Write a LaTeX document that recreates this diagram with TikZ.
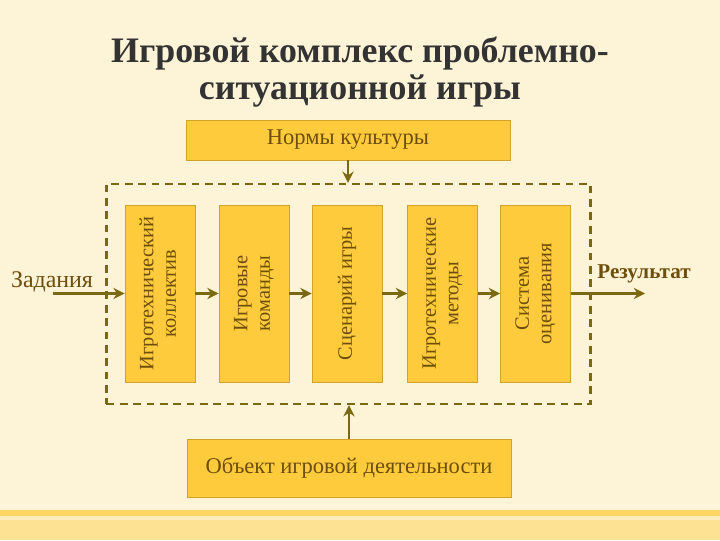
\documentclass[tikz,border=0pt]{standalone}
\usepackage{fontspec}
\setmainfont{Liberation Serif}
\usepackage{graphicx}
\usepackage{tikz}
\usetikzlibrary{arrows.meta}

\definecolor{fon}{HTML}{FDF3D6}
\definecolor{zhelt}{HTML}{FDCB3B}
\definecolor{kant}{HTML}{D2A32C}
\definecolor{oliva}{HTML}{7A6812}
\definecolor{tekst}{HTML}{6E4E0C}
\definecolor{zagol}{HTML}{333333}

\begin{document}
\begin{tikzpicture}[x=0.025cm, y=-0.025cm,
    blok/.style={draw=kant, fill=zhelt, line width=0.6pt, inner sep=0pt,
                 text=tekst, font=\fontsize{16}{18}\selectfont},
    stolb/.style={blok, minimum width=1.75cm, minimum height=4.425cm,
                  font=\fontsize{14.5}{16}\selectfont},
    strelka/.style={draw=oliva, line width=1.7pt, -{Stealth[length=8pt, width=8pt]}},
    podpis/.style={text=tekst, font=\fontsize{17}{19}\selectfont}]

        % Фон слайда
        \fill[fon] (0,0) rectangle (720,540);
        \useasboundingbox (0,0) rectangle (720,540);
        \fill[zhelt!55] (0,510) rectangle (720,540);
        \fill[zhelt!80] (0,510) rectangle (720,516);
        \fill[zhelt!35] (0,516) rectangle (720,520);

        % Заголовок
        \node[text=zagol, align=center, font=\fontsize{25.5}{26}\selectfont\bfseries]
            (title) at (360,72) {Игровой комплекс проблемно-\\ситуационной игры};

        % Верхний и нижний блоки
        \node[blok, minimum width=8.1cm, minimum height=1cm] (norms) at (348,140) {Нормы культуры};
        \node[blok, minimum width=8.1cm, minimum height=1.45cm] (object) at (349,468) {Объект игровой деятельности};

        % Пунктирная рамка комплекса
        \node[draw=oliva, line width=1.6pt, dash pattern=on 5.5pt off 4pt,
              minimum width=12.1cm, minimum height=5.5cm] (complex) at (348.5,294) {};

        % Блоки внутри комплекса
        \node[stolb] (B1) at (160,293.5) {\rotatebox{90}{\begin{tabular}{c}Игротехнический\\коллектив\end{tabular}}};
        \node[stolb] (B2) at (254,293.5) {\rotatebox{90}{\begin{tabular}{c}Игровые\\команды\end{tabular}}};
        \node[stolb] (B3) at (347,293.5) {\rotatebox{90}{Сценарий игры}};
        \node[stolb] (B4) at (442.5,293.5) {\rotatebox{90}{\begin{tabular}{c}Игротехнические\\методы\end{tabular}}};
        \node[stolb] (B5) at (535.5,293.5) {\rotatebox{90}{\begin{tabular}{c}Система\\оценивания\end{tabular}}};

        % Вход и выход
        \node[podpis] (tasks) at (52,282) {Задания};
        \node[podpis, font=\fontsize{15}{17}\selectfont\bfseries] (result) at (644,274) {Результат};
        \coordinate (vhod) at (53,293.5);
        \coordinate (vyhod) at (645,293.5);

        % Стрелки
        \draw[strelka] (vhod) -- (B1.west);
        \draw[strelka] (B1) -- (B2);
        \draw[strelka] (B2) -- (B3);
        \draw[strelka] (B3) -- (B4);
        \draw[strelka] (B4) -- (B5);
        \draw[strelka] (B5.east) -- (vyhod);
        \draw[strelka] (norms.south) -- (norms.south |- complex.north);
        \draw[strelka] (object.north) -- (object.north |- complex.south);

    \end{tikzpicture}
\end{document}
